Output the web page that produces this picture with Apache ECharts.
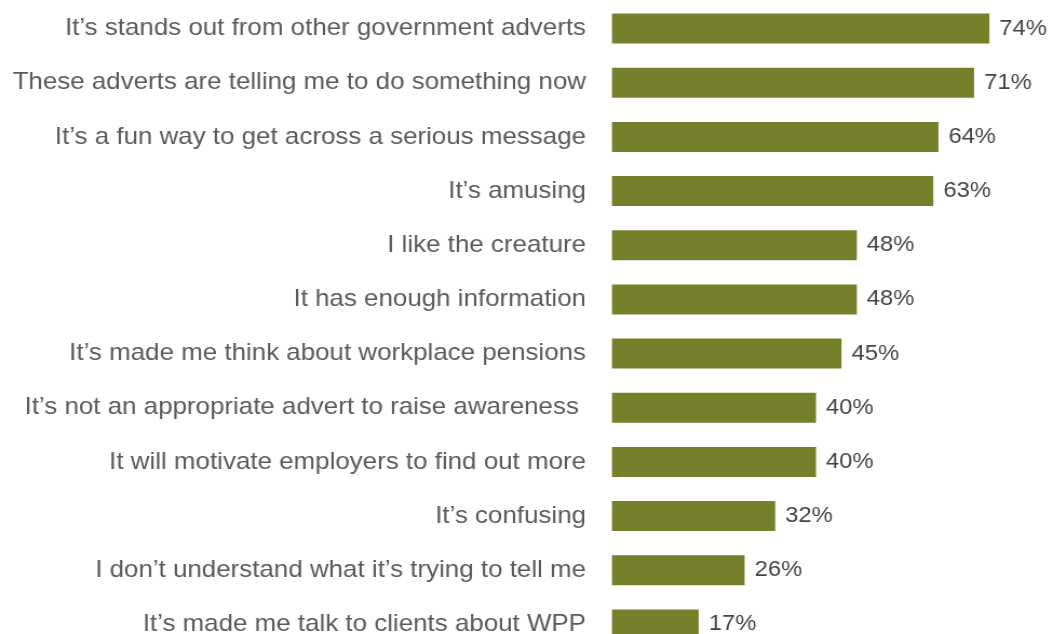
<!DOCTYPE html>
<html>
<head>
<meta charset="utf-8">
<script src="https://cdn.jsdelivr.net/npm/echarts@6/dist/echarts.min.js"></script>
<style>
  html, body { margin: 0; padding: 0; background: #ffffff; overflow: hidden; }
  /* the type is set slightly wide, so the whole drawing is stretched horizontally */
  #chart { width: 974px; height: 660px; transform: scaleX(1.08); transform-origin: 0 0; }
</style>
</head>
<body>
<div id="chart"></div>
<script>
// Statements about the advert, top to bottom
const statements = [
  "It\u2019s stands out from other government adverts",
  "These adverts are telling me to do something now",
  "It\u2019s a fun way to get across a serious message",
  "It\u2019s amusing",
  "I like the creature",
  "It has enough information",
  "It\u2019s made me think about workplace pensions",
  "It\u2019s not an appropriate advert to raise awareness ",
  "It will motivate employers to find out more",
  "It\u2019s confusing",
  "I don\u2019t understand what it\u2019s trying to tell me",
  "It\u2019s made me talk to clients about WPP"
];
// Share agreeing with each statement (%)
const agreePct = [74, 71, 64, 63, 48, 48, 45, 40, 40, 32, 26, 17];

const SX = 1.08; // horizontal stretch applied to the container
const chart = echarts.init(document.getElementById('chart'), null, { renderer: 'canvas' });
chart.setOption({
  animation: false,
  grid: { left: 612 / SX, top: 1.5, width: 408 / SX, height: 650, containLabel: false },
  xAxis: {
    type: 'value', min: 0, max: 80,
    show: false
  },
  yAxis: {
    type: 'category',
    inverse: true,
    data: statements,
    axisLine: { show: false },
    axisTick: { show: false },
    splitLine: { show: false },
    axisLabel: {
      margin: 26 / SX,
      color: '#5a5a5a',
      fontFamily: 'Liberation Sans, Arial, sans-serif',
      fontSize: 24
    }
  },
  series: [{
    type: 'bar',
    data: agreePct,
    barWidth: 30,
    itemStyle: { color: '#76802a' },
    label: {
      show: true,
      position: 'right',
      distance: 10 / SX,
      formatter: '{c}%',
      color: '#444444',
      fontFamily: 'Liberation Sans, Arial, sans-serif',
      fontSize: 22
    }
  }]
});
</script>
</body>
</html>
